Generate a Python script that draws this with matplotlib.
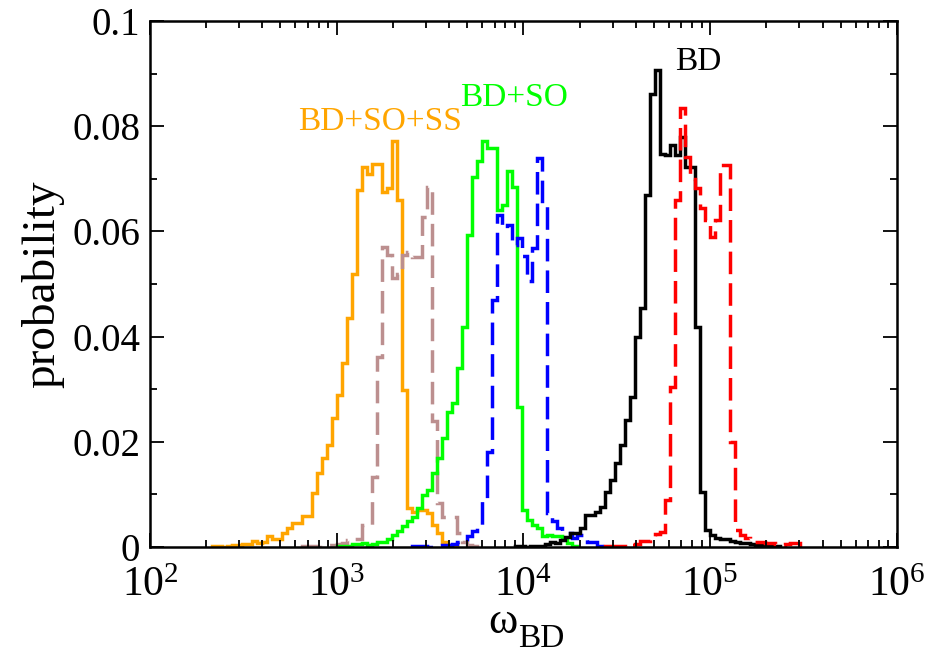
import numpy as np
import matplotlib
matplotlib.use("Agg")
import matplotlib.pyplot as plt
from matplotlib.ticker import MultipleLocator, FuncFormatter, LogLocator, NullFormatter

plt.rcParams['font.family'] = ['Liberation Serif', 'DejaVu Serif']
plt.rcParams['mathtext.fontset'] = 'custom'
plt.rcParams['mathtext.rm'] = 'Liberation Serif'
plt.rcParams['mathtext.it'] = 'Liberation Serif:italic'

# histogram bin width, in log10(omega)
dlog = 0.02678

# BD+SO+SS (orange, solid)
ss_start = 2.3305
ss_prob = [0.00025, 0.00025, 0.0, 0.0001, 0.0004, 0.0004, 0.0005, 0.0005, 0.0011, 0.0008,
           0.001, 0.0021, 0.0015, 0.0015, 0.0026, 0.0036, 0.0046, 0.0046, 0.0059, 0.0059,
           0.0102, 0.014, 0.0169, 0.0194, 0.0245, 0.0289, 0.0349, 0.0435, 0.052, 0.0679,
           0.0723, 0.071, 0.0729, 0.0729, 0.0675, 0.0682, 0.0771, 0.066, 0.0298, 0.0074,
           0.0067, 0.007, 0.007, 0.0064, 0.0042, 0.0026, 0.001, 0.0004, 0.0003]

# companion of BD+SO+SS (brown, dashed)
ss2_start = 2.8125
ss2_prob = [0.0002, 0.0002, 0.0002, 0.0, 0.0001, 0.0004, 0.0004, 0.0005, 0.0008, 0.0013,
            0.0016, 0.0016, 0.0042, 0.0042, 0.0134, 0.0362, 0.0571, 0.0555, 0.0511, 0.052,
            0.0555, 0.0561, 0.0552, 0.0552, 0.0628, 0.0685, 0.024, 0.0083, 0.0058, 0.0058,
            0.0058, 0.0026, 0.001, 0.0004, 0.0002]

# BD+SO (green, solid)
so_start = 3.0
so_prob = [0.0001, 0.0001, 0.0002, 0.0005, 0.0005, 0.0008, 0.0004, 0.0006, 0.001, 0.001,
           0.0016, 0.0023, 0.003, 0.004, 0.005, 0.0058, 0.0075, 0.0099, 0.0108, 0.014,
           0.0169, 0.0207, 0.0257, 0.0273, 0.034, 0.0419, 0.0593, 0.0704, 0.0733, 0.0771,
           0.0758, 0.0758, 0.064, 0.065, 0.0714, 0.0685, 0.0267, 0.007, 0.0051, 0.0042,
           0.0036, 0.002, 0.0023, 0.002, 0.002, 0.0017, 0.0008, 0.0002]

# companion of BD+SO (blue, dashed)
so2_start = 3.4017
so2_prob = [0.0001, 0.0001, 0.0001, 0.0, 0.0, 0.0002, 0.0004, 0.0004, 0.0006, 0.001,
            0.001, 0.002, 0.003, 0.0042, 0.009, 0.018, 0.047, 0.0631, 0.0606, 0.0612,
            0.0575, 0.0587, 0.0553, 0.0505, 0.0568, 0.074, 0.065, 0.0064, 0.005, 0.0036,
            0.0026, 0.0026, 0.0017, 0.0023, 0.0023, 0.001, 0.001, 0.0002]

# BD (black, solid)
bd_start = 3.955
bd_prob = [0.0001, 0.0001, 0.0, 0.0001, 0.0001, 0.0001, 0.0005, 0.001, 0.0008, 0.0013,
           0.0019, 0.0026, 0.0026, 0.0036, 0.0061, 0.0061, 0.0066, 0.0077, 0.0105, 0.0128,
           0.016, 0.0194, 0.0241, 0.0286, 0.040, 0.0454, 0.0669, 0.0862, 0.0907, 0.0748,
           0.0745, 0.0765, 0.0745, 0.078, 0.0723, 0.0723, 0.0418, 0.0105, 0.0032, 0.0023,
           0.0017, 0.0016, 0.0016, 0.0012, 0.001, 0.0008, 0.0008, 0.0006, 0.0003, 0.0003,
           0.0003, 0.0002, 0.0001]

# companion of BD (red, dashed)
bd2_start = 4.4371
bd2_prob = [0.0001, 0.0002, 0.0002, 0.0001, 0.0, 0.0003, 0.0006, 0.0012, 0.0012, 0.002,
            0.0025, 0.0028, 0.0089, 0.0305, 0.066, 0.0834, 0.0742, 0.07, 0.0682, 0.0644,
            0.0622, 0.059, 0.0622, 0.0726, 0.0726, 0.02, 0.0032, 0.0023, 0.0018, 0.0012,
            0.001, 0.001, 0.0008, 0.0008, 0.0006, 0.0004, 0.0006, 0.0008, 0.0008]


def edges(start, n):
    return 10 ** (start + dlog * np.arange(n + 1))


W, H = 939, 653
fig = plt.figure(figsize=(W / 100, H / 100), dpi=100)
ax = fig.add_axes([0.1597, 0.1623, 0.7955, 0.8055])

lw = 2.5
dash = (0, (6.5, 2.6))
series = [
    (ss_start, ss_prob, "#FFA500", "-"),
    (ss2_start, ss2_prob, "#BC8F8F", dash),
    (so_start, so_prob, "#00FF00", "-"),
    (so2_start, so2_prob, "#0000FF", dash),
    (bd_start, bd_prob, "black", "-"),
    (bd2_start, bd2_prob, "#FF0000", dash),
]
for start, prob, col, ls in series:
    ax.stairs(prob, edges(start, len(prob)), color=col, linestyle=ls, linewidth=lw)

ax.set_xscale("log")
ax.set_xlim(1e2, 1e6)
ax.set_ylim(0, 0.1)

ax.xaxis.set_major_locator(LogLocator(base=10, numticks=10))
ax.xaxis.set_minor_locator(LogLocator(base=10, subs=np.arange(2, 10), numticks=40))
ax.xaxis.set_minor_formatter(NullFormatter())
ax.yaxis.set_major_locator(MultipleLocator(0.02))
ax.yaxis.set_minor_locator(MultipleLocator(0.01))
ax.yaxis.set_major_formatter(FuncFormatter(lambda v, p: "%g" % round(v, 4)))

ax.tick_params(which="both", direction="in", top=True, right=True, width=1.3)
ax.tick_params(which="major", length=10)
ax.tick_params(which="minor", length=5)
ax.tick_params(axis="x", which="major", pad=14, labelsize=30)
ax.tick_params(axis="y", which="major", pad=7, labelsize=28)
for s in ax.spines.values():
    s.set_linewidth(1.8)

ax.set_ylabel("probability", fontsize=34, labelpad=6)

# x label: omega with a low subscript
fig.text(488 / W, 1 - 633 / H, "\u03c9", fontsize=32, ha="left", va="baseline")
fig.text(518 / W, 1 - 647 / H, "BD", fontsize=24, ha="left", va="baseline")

ax.text(621, 0.0793, "BD+SO+SS", color="#FFA500", fontsize=24, ha="left", va="baseline")
ax.text(4571, 0.0838, "BD+SO", color="#00FF00", fontsize=24, ha="left", va="baseline")
ax.text(64900, 0.0907, "BD", color="black", fontsize=24, ha="left", va="baseline")

fig.savefig("out.png", dpi=100)
